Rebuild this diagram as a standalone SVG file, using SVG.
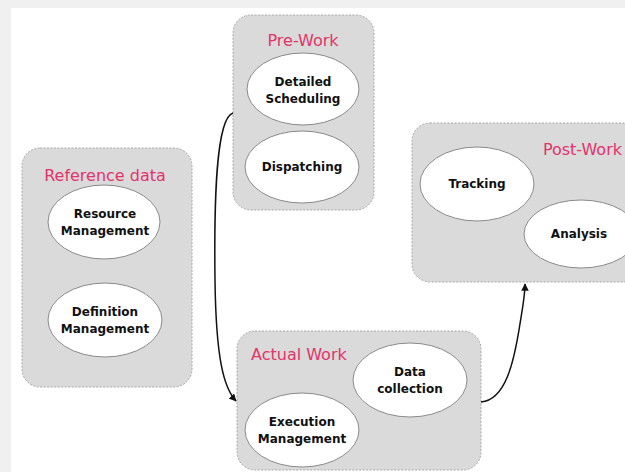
<svg xmlns="http://www.w3.org/2000/svg" width="625" height="472" viewBox="0 0 625 472">
<style>
.grp{fill:#dadada;stroke:#a8a8a8;stroke-width:1;stroke-dasharray:2 1.5}
.ell{fill:#ffffff;stroke:#8a8a8a;stroke-width:1}
.ttl{font-family:"DejaVu Sans",sans-serif;font-size:16px;fill:#e2336b}
.lbl{font-family:"DejaVu Sans",sans-serif;font-size:12px;font-weight:bold;fill:#111;text-anchor:middle}
.con{fill:none;stroke:#111;stroke-width:1.5}
</style>
<defs>
<marker id="arr" viewBox="0 0 10 10" refX="9" refY="5" markerWidth="5" markerHeight="5" orient="auto" markerUnits="strokeWidth">
<path d="M0,0 L10,5 L0,10 z" fill="#111"/>
</marker>
</defs>
<rect x="0" y="0" width="625" height="472" fill="#ffffff"/>
<rect x="0" y="0" width="625" height="8" fill="#f0f0f0"/>
<rect x="0" y="0" width="11" height="472" fill="#f0f0f0"/>

<g id="reference-data">
<rect class="grp" x="22" y="148" width="170" height="239" rx="18"/>
<text class="ttl" x="105" y="181" text-anchor="middle">Reference data</text>
<g id="resource-management">
<ellipse class="ell" cx="104" cy="222" rx="56" ry="37"/>
<text class="lbl" x="105" y="218">Resource</text>
<text class="lbl" x="105" y="235">Management</text>
</g>
<g id="definition-management">
<ellipse class="ell" cx="105" cy="320" rx="57" ry="37"/>
<text class="lbl" x="105" y="316">Definition</text>
<text class="lbl" x="105" y="333">Management</text>
</g>
</g>

<g id="pre-work">
<rect class="grp" x="233" y="15" width="141" height="195" rx="18"/>
<text class="ttl" x="303" y="46" text-anchor="middle">Pre-Work</text>
<g id="detailed-scheduling">
<ellipse class="ell" cx="303" cy="89" rx="56" ry="36"/>
<text class="lbl" x="303" y="86">Detailed</text>
<text class="lbl" x="303" y="103">Scheduling</text>
</g>
<g id="dispatching">
<ellipse class="ell" cx="302" cy="167" rx="57" ry="36"/>
<text class="lbl" x="302" y="171">Dispatching</text>
</g>
</g>

<g id="post-work">
<rect class="grp" x="412" y="123" width="230" height="159" rx="18"/>
<text class="ttl" x="622" y="155" text-anchor="end">Post-Work</text>
<g id="tracking">
<ellipse class="ell" cx="477" cy="184" rx="57" ry="37"/>
<text class="lbl" x="477" y="188">Tracking</text>
</g>
<g id="analysis">
<ellipse class="ell" cx="581" cy="234" rx="57" ry="34"/>
<text class="lbl" x="579" y="238">Analysis</text>
</g>
</g>

<g id="actual-work">
<rect class="grp" x="237" y="331" width="244" height="139" rx="18"/>
<text class="ttl" x="251" y="360">Actual Work</text>
<g id="data-collection">
<ellipse class="ell" cx="410" cy="380" rx="57" ry="37"/>
<text class="lbl" x="410" y="376">Data</text>
<text class="lbl" x="410" y="393">collection</text>
</g>
<g id="execution-management">
<ellipse class="ell" cx="302" cy="430" rx="57" ry="37"/>
<text class="lbl" x="302" y="426">Execution</text>
<text class="lbl" x="302" y="443">Management</text>
</g>
</g>

<g id="connectors">
<path class="con" d="M233,113 C216,118 214,200 215,280 C216,360 224,388 236,401" marker-end="url(#arr)"/>
<path class="con" d="M481,402 C506,400 514,360 519,330 C523,305 525,296 525,284" marker-end="url(#arr)"/>
</g>
</svg>
